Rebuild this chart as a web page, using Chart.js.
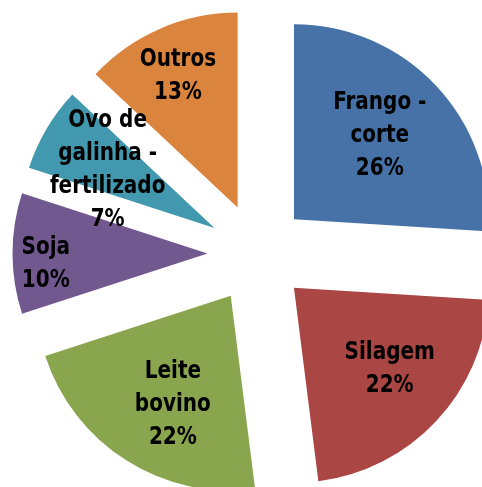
<!DOCTYPE html>
<html>
<head>
<meta charset="utf-8">
<script src="https://cdn.jsdelivr.net/npm/chart.js@4/dist/chart.umd.min.js"></script>
<style>
  html, body { margin: 0; padding: 0; background: #ffffff; }
  #wrap { width: 482px; height: 487px; }
</style>
</head>
<body>
<div id="wrap"><canvas id="c" width="482" height="487"></canvas></div>
<script>
// Categories (each entry split into the lines shown inside its slice)
const categories = [
  ['Frango -', 'corte'],
  ['Silagem'],
  ['Leite', 'bovino'],
  ['Soja'],
  ['Ovo de', 'galinha -', 'fertilizado'],
  ['Outros']
];
// Share of each category, in percent
const shares = [26, 22, 22, 10, 7, 13];
const sliceColors = ['#4672A8', '#AA4644', '#89A54E', '#71588F', '#4198AF', '#DB843D'];

// Styling: how far every slice is pulled out, and where its label sits
const EXPLODE = 50;
const labelDistance = [121, 125, 122, 162, 122, 145];
const labelTurnDeg = [-1.6, -3.2, -4.1, -3.3, -1.7, -0.9];
const LABEL_FONT = 'bold 25px "DejaVu Sans Condensed", "DejaVu Sans", sans-serif';
const LABEL_SQUEEZE = 0.89;   // narrow the glyphs horizontally
const LINE_HEIGHT = 33;

// Pull each arc outward along its bisector without altering its radius
const explodePlugin = {
  id: 'explodeSlices',
  beforeDatasetDraw(chart, args) {
    args.meta.data.forEach(arc => {
      if (arc.$exploded) return;
      const baseDraw = arc.draw;
      arc.draw = function (ctx) {
        const mid = (this.startAngle + this.endAngle) / 2;
        ctx.save();
        ctx.translate(Math.cos(mid) * EXPLODE, Math.sin(mid) * EXPLODE);
        baseDraw.call(this, ctx);
        ctx.restore();
      };
      arc.$exploded = true;
    });
  }
};

// Category name plus percentage written inside each slice
const sliceLabels = {
  id: 'sliceLabels',
  afterDatasetsDraw(chart) {
    const meta = chart.getDatasetMeta(0);
    const ctx = chart.ctx;
    meta.data.forEach((arc, i) => {
      const mid = (arc.startAngle + arc.endAngle) / 2;
      const ax = arc.x + Math.cos(mid) * EXPLODE;
      const ay = arc.y + Math.sin(mid) * EXPLODE;
      const a = mid + labelTurnDeg[i] * Math.PI / 180;
      const cx = ax + Math.cos(a) * labelDistance[i];
      const cy = ay + Math.sin(a) * labelDistance[i];
      const lines = categories[i].concat([shares[i] + '%']);
      const top = cy - (lines.length - 1) * LINE_HEIGHT / 2;
      ctx.save();
      ctx.translate(cx, 0);
      ctx.scale(LABEL_SQUEEZE, 1);
      ctx.font = LABEL_FONT;
      ctx.fillStyle = '#000000';
      ctx.textAlign = 'center';
      ctx.textBaseline = 'middle';
      lines.forEach((t, k) => ctx.fillText(t, 0, top + k * LINE_HEIGHT + 1));
      ctx.restore();
    });
  }
};

new Chart(document.getElementById('c'), {
  type: 'pie',
  data: {
    labels: categories.map(l => l.join(' ')),
    datasets: [{
      data: shares,
      backgroundColor: sliceColors,
      borderWidth: 0
    }]
  },
  options: {
    responsive: false,
    animation: false,
    events: [],
    radius: 195,
    layout: { padding: { left: 33, right: 0, top: 20, bottom: 0 } },
    plugins: {
      legend: { display: false },
      tooltip: { enabled: false }
    }
  },
  plugins: [explodePlugin, sliceLabels]
});
</script>
</body>
</html>
